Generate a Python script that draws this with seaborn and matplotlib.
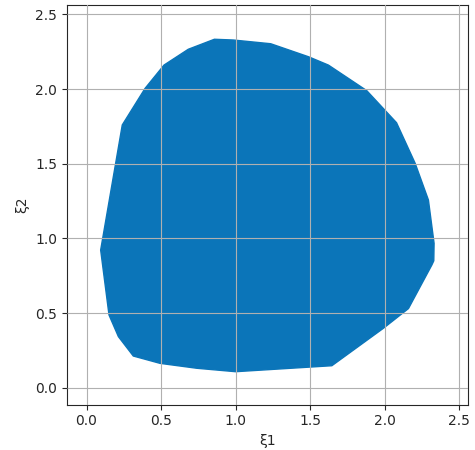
import matplotlib
matplotlib.use("Agg")
import matplotlib.pyplot as plt
import seaborn as sns

# boundary of the region
xi1 = [0.095, 0.151, 0.214, 0.314, 0.493, 0.74, 1.0, 1.646, 1.992, 2.16,
       2.317, 2.33, 2.332, 2.294, 2.205, 2.08, 1.88, 1.623, 1.489, 1.236,
       0.985, 0.858, 0.683, 0.52, 0.393, 0.24]
xi2 = [0.922, 0.487, 0.342, 0.212, 0.163, 0.13, 0.107, 0.147, 0.398, 0.53,
       0.822, 0.85, 0.967, 1.257, 1.503, 1.775, 1.99, 2.161, 2.217, 2.304,
       2.329, 2.334, 2.267, 2.161, 2.005, 1.76]

sns.set_style("ticks")
plt.rcParams['font.family'] = ['DejaVu Sans']

fig = plt.figure(figsize=(4.75, 4.5), dpi=100)
ax = fig.add_axes([0.1404, 0.1007, 0.845, 0.888])

ax.fill(xi1, xi2, color='#0b75b9', zorder=1)

ax.set_xlim(-0.133, 2.56)
ax.set_ylim(-0.114, 2.563)
ax.set_xticks([0.0, 0.5, 1.0, 1.5, 2.0, 2.5])
ax.set_yticks([0.0, 0.5, 1.0, 1.5, 2.0, 2.5])
ax.set_axisbelow(False)
ax.grid(True, color='#b0b0b0', linewidth=0.8)
ax.set_xlabel('ξ1')
ax.set_ylabel('ξ2')

fig.savefig('out.png', dpi=100)
